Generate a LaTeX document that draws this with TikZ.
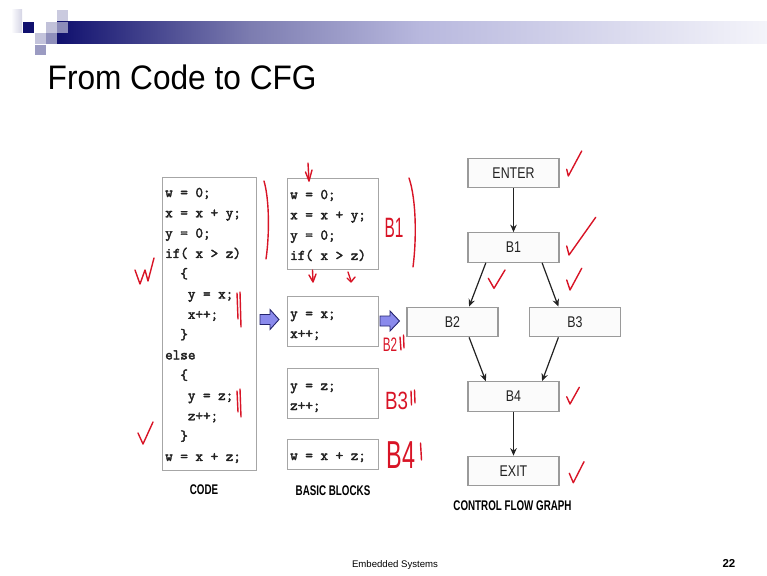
\documentclass[tikz,border=0pt]{standalone}
\usepackage{fontspec}
\usepackage{graphicx}
\setmainfont{Liberation Sans}
\newfontfamily\codefont{Latin Modern Mono}[FakeBold=2.6]
\usetikzlibrary{arrows.meta,calc}

\definecolor{navy}{HTML}{10106E}
\definecolor{barmid}{HTML}{7C7CB0}
\definecolor{barlight}{HTML}{B8B8DE}
\definecolor{barpale}{HTML}{F4F4FA}
\definecolor{framegray}{HTML}{A6A6A6}
\definecolor{cfggray}{HTML}{9A9A9A}
\definecolor{ink}{HTML}{222222}
\definecolor{pen}{HTML}{D81426}
\definecolor{arrowfill}{HTML}{8A8AEC}
\definecolor{arrowline}{HTML}{24246E}

% horizontally narrowed text
\newcommand\narrow[2]{\scalebox{#1}[1]{#2}}

\begin{document}
\begin{tikzpicture}[x=1pt,y=-1pt,
  codebox/.style={draw=framegray, line width=1.4pt, fill=white, anchor=north west, inner sep=0pt},
  codeline/.style={anchor=base west, inner sep=0pt, text=ink,
    font=\codefont\fontsize{14.7}{14.7}\selectfont},
  cfgbox/.style={draw=cfggray, line width=1.2pt, fill=gray!3, minimum width=91pt,
    minimum height=29.5pt, inner sep=0pt, text=ink, font=\fontsize{15.5}{15.5}\selectfont},
  flow/.style={draw=ink, line width=1.2pt, -{Stealth[length=7.5pt,width=6.5pt]}},
  caption/.style={anchor=base, inner sep=0pt, text=black, font=\bfseries\fontsize{14}{14}\selectfont},
  penline/.style={draw=pen, line width=1.4pt, line cap=round, line join=round},
  penlabel/.style={inner sep=0pt, text=pen},
  blockarrow/.style={draw=arrowline, line width=0.9pt, fill=arrowfill, line join=miter}
]
\useasboundingbox (0,0) rectangle (767,575);

% ---- slide header: squares and fading bar ----
\shade[left color=white, right color=navy!18!white] (11,10) rectangle (22,33);
\fill[navy] (22.5,22) rectangle (33.5,33);
\fill[navy!25!white] (34.5,33.5) rectangle (45.5,44);
\fill[navy!42!white] (34.5,45) rectangle (45.5,55.5);
\fill[navy!26!white] (46,22) rectangle (56.5,33);
\fill[navy!47!white] (46,33.5) rectangle (56.5,44);
\fill[navy!22!white] (57,10) rectangle (68,21);
\shade[left color=navy, right color=barmid] (57,22) rectangle (250,43.5);
\shade[left color=barmid, right color=barlight] (249.5,22) rectangle (420,43.5);
\shade[left color=barlight, right color=barpale] (419.5,22) rectangle (767,43.5);
\fill[navy!48!white] (57,22) rectangle (68,33);

% ---- title ----
\node[anchor=base west, inner sep=0pt, font=\fontsize{34}{34}\selectfont] (title) at (47.5,90) {\narrow{0.93}{From Code to CFG}};

% ---- source code ----
\node[codebox, minimum width=94pt, minimum height=293pt] (code) at (162,177) {};
\foreach \t [count=\i from 0] in {
  {w = 0;},{x = x + y;},{y = 0;},{if( x > z)},
  {\phantom{xx}\{},{\phantom{xxx}y = x;},{\phantom{xxx}x++;},{\phantom{xx}\}},
  {else},
  {\phantom{xx}\{},{\phantom{xxx}y = z;},{\phantom{xxx}z++;},{\phantom{xx}\}},
  {w = x + z;}}
  \node[codeline] (code\i) at (165,{197+20.3*\i}) {\t};

% ---- basic blocks ----
\node[codebox, minimum width=91pt, minimum height=91pt] (bb1) at (287,178) {};
\node[codebox, minimum width=91pt, minimum height=50pt] (bb2) at (287,296) {};
\node[codebox, minimum width=91pt, minimum height=50pt] (bb3) at (287,368) {};
\node[codebox, minimum width=91pt, minimum height=30pt] (bb4) at (287,439) {};
\foreach \t [count=\i from 0] in {{w = 0;},{x = x + y;},{y = 0;},{if( x > z)}}
  \node[codeline] (bbone\i) at (290,{199+20.3*\i}) {\t};
\node[codeline] (bbtwoa) at (290,318) {y = x;};
\node[codeline] (bbtwob) at (290,338) {x++;};
\node[codeline] (bbthreea) at (290,390) {y = z;};
\node[codeline] (bbthreeb) at (290,410) {z++;};
\node[codeline] (bbfour) at (290,460) {w = x + z;};

% ---- block arrows ----
\draw[blockarrow] (260,314.5) -- (270,314.5) -- (270,309.5) -- (279,319.5)
  -- (270,329.5) -- (270,324.5) -- (260,324.5) -- cycle;
\draw[blockarrow] (380,316) -- (390,316) -- (390,311) -- (399.5,321)
  -- (390,331) -- (390,326) -- (380,326) -- cycle;

% ---- control flow graph ----
\node[cfgbox] (enter) at (513.5,173) {\narrow{0.8}{ENTER}};
\node[cfgbox] (b1) at (513.5,247.5) {\narrow{0.8}{B1}};
\node[cfgbox] (b2) at (452.5,322) {\narrow{0.8}{B2}};
\node[cfgbox] (b3) at (575,322) {\narrow{0.8}{B3}};
\node[cfgbox] (b4) at (513.5,396.5) {\narrow{0.8}{B4}};
\node[cfgbox] (exit) at (513.5,471) {\narrow{0.8}{EXIT}};

\draw[flow] (enter) -- (b1);
\draw[flow] ($(b1.south west)!0.2!(b1.south east)$) -- ($(b2.north west)!0.68!(b2.north east)$);
\draw[flow] ($(b1.south west)!0.81!(b1.south east)$) -- ($(b3.north west)!0.32!(b3.north east)$);
\draw[flow] ($(b2.south west)!0.68!(b2.south east)$) -- ($(b4.north west)!0.2!(b4.north east)$);
\draw[flow] ($(b3.south west)!0.32!(b3.south east)$) -- ($(b4.north west)!0.81!(b4.north east)$);
\draw[flow] (b4) -- (exit);

% ---- captions ----
\node[caption] (capcode) at (204,494.5) {\narrow{0.7}{CODE}};
\node[caption] (capbb) at (333,495) {\narrow{0.7}{BASIC BLOCKS}};
\node[caption] (capcfg) at (512.5,510) {\narrow{0.7}{CONTROL FLOW GRAPH}};

% ---- footer ----
\node[anchor=base, inner sep=0pt, font=\fontsize{9.6}{9.6}\selectfont] (footer) at (395,567) {Embedded Systems};
\node[anchor=base east, inner sep=0pt, font=\bfseries\fontsize{11.5}{11.5}\selectfont] (pageno) at (735.5,567) {22};

% ---- pen annotations ----
% brackets beside the code
\draw[penline] (264,181) .. controls (269.5,200) and (269.5,235) .. (266,259);
\draw[penline] (237,293) -- (238,319);
\draw[penline] (240,292) -- (241,327);
\draw[penline] (237,391) -- (238,412);
\draw[penline] (240,389) -- (241,417);
% ticks on the left
\draw[penline] (135,270) -- (140,284) -- (145,270) -- (148,281) -- (154,258);
\draw[penline] (138,433) -- (143,444) -- (153,422);
% entry and exit marks of the first block
\draw[penline] (308,163) -- (309,181);
\draw[penline] (305.5,172) -- (309,181) -- (312,170);
\draw[penline] (312.5,270) -- (313,281);
\draw[penline] (309,275) -- (313,282) -- (316,274);
\draw[penline] (348,272) -- (351,281);
\draw[penline] (347,278) -- (351,282) -- (355,277);
\draw[penline] (409,178) .. controls (416.5,200) and (416.5,240) .. (413,267);
% block names
\node[penlabel, font=\fontsize{28}{28}\selectfont] (penbone) at (394,227.5) {\narrow{0.55}{B1}};
\node[penlabel, font=\fontsize{19.5}{19.5}\selectfont] (penbtwo) at (390,345) {\narrow{0.6}{B2}};
\draw[penline] (400,337) -- (401,350);
\draw[penline] (403.5,335) -- (404,348);
\node[penlabel, font=\fontsize{25}{25}\selectfont] (penbthree) at (396.5,401) {\narrow{0.75}{B3}};
\draw[penline] (411,391) -- (411.5,405);
\draw[penline] (414.5,390) -- (415,403);
\node[penlabel, font=\fontsize{39}{39}\selectfont] (penbfour) at (401,455.5) {\narrow{0.6}{B4}};
\draw[penline] (420.5,443) -- (421.5,460);
% ticks beside the graph
\draw[penline] (566.7,169.3) -- (568.3,176) -- (581.7,151);
\draw[penline] (566.7,246) -- (569,255) -- (595.7,217.3);
\draw[penline] (566.7,280) -- (570,290) -- (581.7,268.3);
\draw[penline] (488.3,278.3) -- (494,288.3) -- (505,270);
\draw[penline] (566.7,396.7) -- (570,404) -- (579.3,387.3);
\draw[penline] (569.3,473.3) -- (573.3,482.7) -- (584,461.7);
\end{tikzpicture}
\end{document}
